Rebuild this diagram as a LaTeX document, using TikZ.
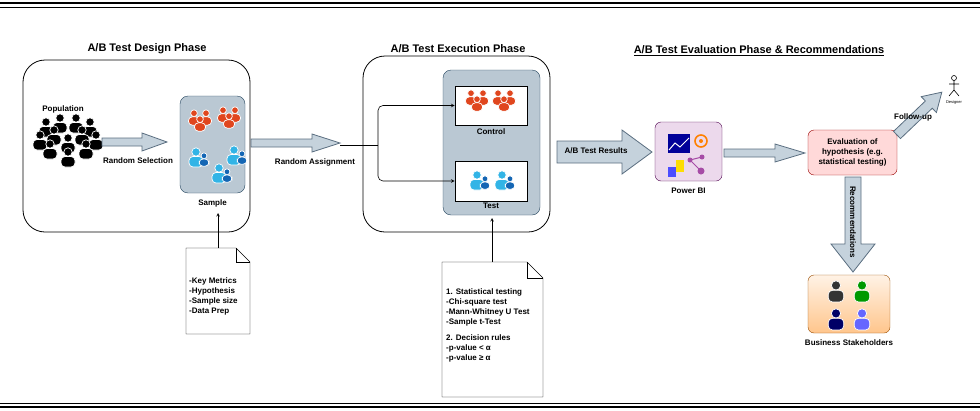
\documentclass[tikz,border=0pt]{standalone}
\usepackage{fontspec}
\setmainfont{Liberation Sans}
\usetikzlibrary{positioning}
\definecolor{slate}{HTML}{BAC8D3}
\definecolor{slateline}{HTML}{23445D}
\definecolor{fatfill}{HTML}{C5D2DC}
\definecolor{fatline}{HTML}{5A6E80}
\definecolor{redppl}{HTML}{E0461E}
\definecolor{cyanppl}{HTML}{32B4E6}
\definecolor{blueppl}{HTML}{1466B4}
\tikzset{
  title/.style={font=\fontsize{11}{13}\selectfont\bfseries},
  lbl/.style={font=\fontsize{8}{10}\selectfont\bfseries},
  phase/.style={draw, rounded corners=22pt, line width=0.8pt},
  inner/.style={draw=slateline, fill=slate, rounded corners=8pt},
  group/.style={draw, fill=white, line width=0.8pt},
  fat/.style={draw=fatline, fill=fatfill, line width=0.8pt},
  note/.style={draw, fill=white},
  link/.style={->, >=stealth, line width=0.6pt},
  pics/person/.style={code={
    \filldraw[#1, draw=white, line width=0.7pt] (0,6) circle (4.2);
    \filldraw[#1, draw=white, line width=0.7pt, rounded corners=4pt]
      (-7,-9) -- (-7,1.5) -- (7,1.5) -- (7,-9) -- cycle;}},
  pics/duo/.style={code={
    \pic at (-3,0) {person=cyanppl};
    \pic[scale=0.7] at (5,-2) {person=blueppl};}},
  pics/trio/.style={code={
    \pic[scale=0.8] at (-6,2) {person=redppl};
    \pic[scale=0.8] at (6,2) {person=redppl};
    \pic[scale=0.8] at (0,-4) {person=redppl};}}
}
% fat arrow: start, angle, length, half body, half head, head length
\newcommand{\fatarrow}[6]{%
  \begin{scope}[shift={#1}, rotate=#2]
    \draw[fat] (0,-#4) -- ({#3-#6},-#4) -- ({#3-#6},-#5) -- (#3,0)
      -- ({#3-#6},#5) -- ({#3-#6},#4) -- (0,#4) -- cycle;
  \end{scope}}
\begin{document}
\begin{tikzpicture}[x=1pt, y=1pt]
  \useasboundingbox (0,0) rectangle (980,-410);
  % frame lines
  \draw[line width=1.4pt] (0,-3) -- (980,-3);
  \draw[line width=0.8pt] (0,-7) -- (980,-7);
  \draw[line width=0.8pt] (0,-403) -- (980,-403);
  \draw[line width=1.4pt] (0,-407) -- (980,-407);

  % design phase
  \node[title] (designT) at (147,-49) {A/B Test Design Phase};
  \draw[phase] (23,-60) rectangle (250,-232);
  \node[lbl] (pop) at (63,-109) {Population};
  \foreach \x/\y in {46/-128, 60/-124, 76/-124, 90/-128, 40/-141, 54/-136, 82/-136, 96/-141, 50/-150, 68/-144, 86/-150, 68/-158}
    \pic at (\x,\y) {person=black};
  \fatarrow{(102,-142)}{0}{65}{4}{9}{25}
  \node[lbl] (rsel) at (138,-161) {Random Selection};
  \node[inner, minimum width=65pt, minimum height=97pt] (sample) at (212.5,-144.5) {};
  \node[lbl, below=3pt of sample] (sampleL) {Sample};
  \pic at (200,-120) {trio};
  \pic at (229,-117) {trio};
  \pic at (199,-158) {duo};
  \pic at (237,-156) {duo};
  \pic at (222,-174) {duo};
  % design note
  \draw[note] (186,-248) -- (236,-248) -- (250,-262) -- (250,-334) -- (186,-334) -- cycle;
  \draw (236,-248) -- (236,-262) -- (250,-262);
  \node[lbl, align=left, anchor=north west, inner sep=0pt] (dnote) at (189,-277)
    {-Key Metrics\\-Hypothesis\\-Sample size\\-Data Prep};
  \coordinate (dtop) at (218,-248);
  \draw[link] (dtop) -- (218,-213);

  % execution phase
  \fatarrow{(251,-143)}{0}{89}{4}{9}{28}
  \node[lbl] (rassign) at (315,-162) {Random Assignment};
  \node[title] (execT) at (458,-49) {A/B Test Execution Phase};
  \draw[phase] (363,-56) rectangle (550,-232);
  \node[inner, minimum width=97pt, minimum height=145pt] (pool) at (491.5,-142.5) {};
  \node[group, minimum width=72pt, minimum height=39pt] (control) at (491,-105.5) {};
  \node[lbl, below=0pt of control] (controlL) {Control};
  \node[group, minimum width=72pt, minimum height=40pt] (test) at (491,-181) {};
  \node[lbl, below=0pt of test, inner sep=1pt] (testL) {Test};
  \pic at (477,-100) {trio};
  \pic at (504,-100) {trio};
  \pic at (480,-181) {duo};
  \pic at (505,-181) {duo};
  \coordinate (split) at (340,-145);
  \draw[line width=0.6pt] (split) -- (378,-145);
  \draw[link, rounded corners=5pt] (378,-145) |- (control.west);
  \draw[link, rounded corners=5pt] (378,-145) |- (test.west);
  % execution note
  \draw[note] (442,-262) -- (527,-262) -- (543,-278) -- (543,-397) -- (442,-397) -- cycle;
  \draw (527,-262) -- (527,-278) -- (543,-278);
  \node[lbl, align=left, anchor=north west, inner sep=0pt] (enote) at (446,-288)
    {1. Statistical testing\\-Chi-square test\\-Mann-Whitney U Test\\-Sample t-Test\\[6pt]2. Decision rules\\-p-value < α\\-p-value ≥ α};
  \coordinate (etop) at (492,-262);
  \draw[link] (etop) -- (492,-218);

  % evaluation phase
  \node[title, text depth=0pt] (evalT) at (759,-50) {\underline{A/B Test Evaluation Phase \& Recommendations}};
  \fatarrow{(557,-152)}{0}{95}{11}{22}{30}
  \node[lbl] (results) at (596,-151) {A/B Test Results};
  \node[draw=violet!60!black, fill=violet!15, rounded corners=6pt, minimum width=67pt, minimum height=59pt] (pbi) at (688.5,-151.5) {};
  \node[lbl, below=3pt of pbi] (pbiL) {Power BI};
  % power bi icon
  \fill[blue!60!black] (668,-134) rectangle (690,-153);
  \draw[white, line width=1pt] (669,-150) -- (675,-143) -- (680,-147) -- (689,-138);
  \draw[orange, line width=1.6pt] (701,-141) circle (6);
  \fill[orange] (701,-141) circle (2);
  \fill[blue!70] (668,-167) rectangle (676,-177);
  \fill[yellow!80!orange] (676,-160) rectangle (684,-172);
  \fill[violet!70] (690,-160) circle (2.5) (702,-157) circle (2.5) (701,-171) circle (3.5);
  \draw[violet!70, line width=1pt] (690,-160) -- (702,-157) (690,-160) -- (701,-171);
  \fatarrow{(724,-153)}{0}{81}{4}{9}{30}
  \node[draw=red!60!black, fill=red!15, rounded corners=6pt, minimum width=89pt, minimum height=45pt, lbl, align=center] (evalbox) at (852.5,-152.5)
    {Evaluation of\\hypothesis (e.g.\\statistical testing)};
  \fatarrow{(897,-135)}{43.7}{62}{5}{11}{18}
  \node[lbl] (follow) at (913,-117) {Follow-up};
  % designer
  \draw[line width=0.6pt] (954,-78) circle (2.5) (954,-80.5) -- (954,-90) (949,-84) -- (959,-84)
    (949,-96) -- (954,-90) -- (959,-96);
  \node[font=\fontsize{4}{5}\selectfont] (designer) at (954,-102) {Designer};
  \fatarrow{(853,-177)}{-90}{95}{8}{22}{28}
  \node[lbl, rotate=-90] (recom) at (853,-222) {Recommendations};
  \node[draw=orange!60!black, top color=orange!10, bottom color=orange!45, rounded corners=6pt, minimum width=82pt, minimum height=58pt] (stake) at (849,-304) {};
  \node[lbl, below=3pt of stake] (stakeL) {Business Stakeholders};
  \pic[scale=1.1] at (836,-292) {person=black!80};
  \pic[scale=1.1] at (862,-292) {person=green!60!black};
  \pic[scale=1.1] at (836,-320) {person=blue!40!black};
  \pic[scale=1.1] at (862,-320) {person=blue!60};
\end{tikzpicture}
\end{document}
